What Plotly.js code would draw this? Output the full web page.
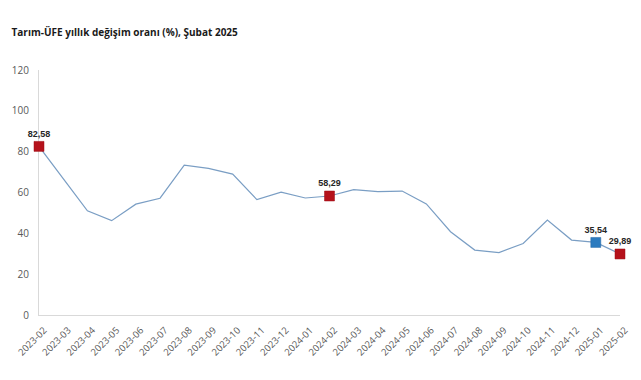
<!DOCTYPE html>
<html>
<head>
<meta charset="utf-8">
<script src="https://cdn.plot.ly/plotly-3.0.1.min.js"></script>
<style>html,body{margin:0;padding:0;background:#fff;}#chart{width:641px;height:380px;}</style>
</head>
<body>
<div id="chart"></div>
<script>
const months = ["2023-02","2023-03","2023-04","2023-05","2023-06","2023-07","2023-08","2023-09","2023-10","2023-11","2023-12","2024-01","2024-02","2024-03","2024-04","2024-05","2024-06","2024-07","2024-08","2024-09","2024-10","2024-11","2024-12","2025-01","2025-02"];
const rates = [82.58,66.8,51.0,46.2,54.3,57.2,73.4,71.8,69.0,56.5,60.2,57.3,58.29,61.4,60.4,60.7,54.4,40.8,31.8,30.6,35.0,46.5,36.7,35.54,29.89];
const redMonths = ["2023-02","2024-02","2025-02"];
const blueMonths = ["2025-01"];

const valOf = m => rates[months.indexOf(m)];
const fmt = v => v.toFixed(2).replace(".", ",");

const labelFont = {family: "Liberation Sans, Arial, sans-serif", size: 9, color: "#262626"};

const traces = [
  {x: months, y: rates, type: "scatter", mode: "lines",
   line: {color: "#7a9ec4", width: 1.2}, hoverinfo: "skip", showlegend: false},
  {x: redMonths, y: redMonths.map(valOf), type: "scatter", mode: "markers+text",
   marker: {symbol: "square", size: 10, color: "#b5121b", line: {color: "#9c0f17", width: 0.5}},
   text: redMonths.map(m => "<b>" + fmt(valOf(m)) + "</b>"), textposition: "top center",
   textfont: labelFont, cliponaxis: false, showlegend: false},
  {x: blueMonths, y: blueMonths.map(valOf), type: "scatter", mode: "markers+text",
   marker: {symbol: "square", size: 10, color: "#2c7bbf", line: {color: "#2266a6", width: 0.5}},
   text: blueMonths.map(m => "<b>" + fmt(valOf(m)) + "</b>"), textposition: "top center",
   textfont: labelFont, cliponaxis: false, showlegend: false}
];

const layout = {
  width: 641, height: 380,
  margin: {l: 39, r: 21, t: 70, b: 65},
  paper_bgcolor: "#fff", plot_bgcolor: "#fff",
  title: {text: "<b>Tarım-ÜFE yıllık değişim oranı (%), Şubat 2025</b>",
          x: 0.018, xanchor: "left", y: 0.915, yanchor: "middle",
          font: {family: "Open Sans, sans-serif", size: 10, color: "#1a1a1a"}},
  xaxis: {type: "category", range: [0, 24], tickangle: -45, layer: "below traces",
          showgrid: false, zeroline: false, showline: true, linecolor: "#d9d9d9", linewidth: 1,
          ticks: "", ticklabelshift: 5, ticklabelstandoff: 5,
          tickfont: {family: "Open Sans, sans-serif", size: 9.5, color: "#595959"}, fixedrange: true},
  yaxis: {range: [0, 120], dtick: 20, tick0: 0, layer: "below traces",
          showgrid: false, zeroline: false, showline: true, linecolor: "#d9d9d9", linewidth: 1,
          ticks: "", ticklabelstandoff: 7,
          tickfont: {family: "Open Sans, sans-serif", size: 10, color: "#595959"}, fixedrange: true},
  showlegend: false
};

Plotly.newPlot("chart", traces, layout, {displayModeBar: false, staticPlot: true});
</script>
</body>
</html>
